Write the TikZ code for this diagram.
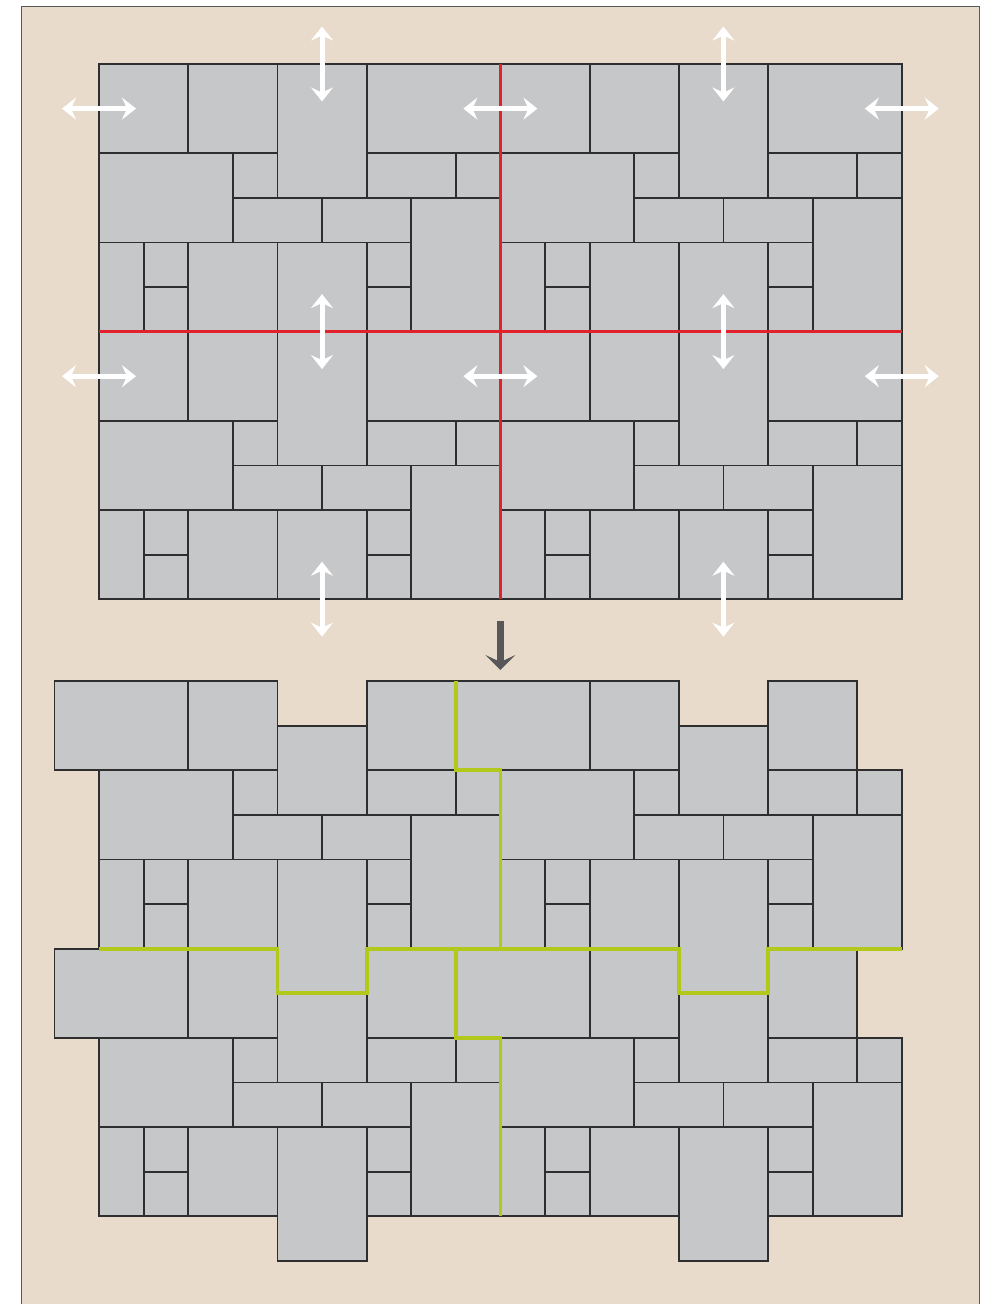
\documentclass[tikz,border=0pt]{standalone}
\usetikzlibrary{arrows.meta}
\definecolor{beige}{HTML}{E8DBCB}
\definecolor{stone}{HTML}{C6C7C9}
\definecolor{joint}{HTML}{2E2E2E}
\definecolor{cutred}{HTML}{E1222B}
\definecolor{cutgreen}{HTML}{B2C81A}
\definecolor{darkarrow}{HTML}{58585A}
\tikzset{
  stonebox/.style={fill=stone,draw=joint,line width=1.8pt},
  redcut/.style={draw=cutred,line width=3.4pt},
  greencut/.style={draw=cutgreen,line width=3.8pt,line join=miter},
  shiftarrow/.style={draw=white,line width=5pt,{Stealth[length=14pt,width=22pt,inset=5pt]}-{Stealth[length=14pt,width=22pt,inset=5pt]}},
  downarrow/.style={draw=darkarrow,line width=7pt,-{Stealth[length=15pt,width=30pt,inset=7pt]}}
}
\begin{document}
\begin{tikzpicture}[x=1pt,y=-1pt]
\pgfmathsetmacro{\u}{44.6}
\useasboundingbox (0,0) rectangle (998,1304);
\fill[white] (0,0) rectangle (998,1304);
\draw[fill=beige,draw=joint!80,line width=1pt] (21,1310) -- (21,6) -- (979,6) -- (979,1310);
% top pattern
\foreach \dx/\dy in {0/0,9/0,0/6,9/6}{
  \foreach \a/\b/\c/\d in {0/0/2/2,2/0/4/2,4/0/6/3,6/0/9/2,0/2/3/4,3/2/4/3,6/2/8/3,8/2/9/3,3/3/5/4,5/3/7/4,7/3/9/6,0/4/1/6,1/4/2/5,1/5/2/6,2/4/4/6,4/4/6/6,6/4/7/5,6/5/7/6}{
    \draw[stonebox] ({99+(\a+\dx)*\u},{64+(\b+\dy)*\u}) rectangle ({99+(\c+\dx)*\u},{64+(\d+\dy)*\u});
  }
}
% bottom pattern
\foreach \dx/\dy in {0/0,9/0,0/6,9/6}{
  \foreach \a/\b/\c/\d in {-1/0/2/2,2/0/4/2,4/1/6/3,6/0/8/2,0/2/3/4,3/2/4/3,6/2/8/3,8/2/9/3,3/3/5/4,5/3/7/4,7/3/9/6,0/4/1/6,1/4/2/5,1/5/2/6,2/4/4/6,4/4/6/7,6/4/7/5,6/5/7/6}{
    \draw[stonebox] ({99+(\a+\dx)*\u},{681+(\b+\dy)*\u}) rectangle ({99+(\c+\dx)*\u},{681+(\d+\dy)*\u});
  }
}
% red cut lines
\draw[redcut] ({99+9*\u},64) -- ({99+9*\u},{64+12*\u});
\draw[redcut] (99,{64+6*\u}) -- ({99+18*\u},{64+6*\u});
% green cut lines
\begin{scope}[shift={(99,681)},x=44.6pt,y=-44.6pt]
\draw[greencut] (8,0) -- (8,2) -- (9,2) -- (9,6);
\draw[greencut] (0,6) -- (4,6) -- (4,7) -- (6,7) -- (6,6) -- (13,6) -- (13,7) -- (15,7) -- (15,6) -- (18,6);
\draw[greencut] (8,6) -- (8,8) -- (9,8) -- (9,12);
\end{scope}
% white shift arrows
\foreach \cx in {0,9,18}{
  \foreach \ry in {1,7}{
    \draw[shiftarrow] ({99+\cx*\u-37},{64+\ry*\u}) -- ({99+\cx*\u+37},{64+\ry*\u});
  }
}
\foreach \cx in {5,14}{
  \foreach \ry in {0,6,12}{
    \draw[shiftarrow] ({99+\cx*\u},{64+\ry*\u-37.5}) -- ({99+\cx*\u},{64+\ry*\u+37.5});
  }
}
% down arrow
\coordinate (arrtop) at (500.4,621);
\coordinate (arrtip) at (500.4,670);
\draw[downarrow] (arrtop) -- (arrtip);
\end{tikzpicture}
\end{document}
